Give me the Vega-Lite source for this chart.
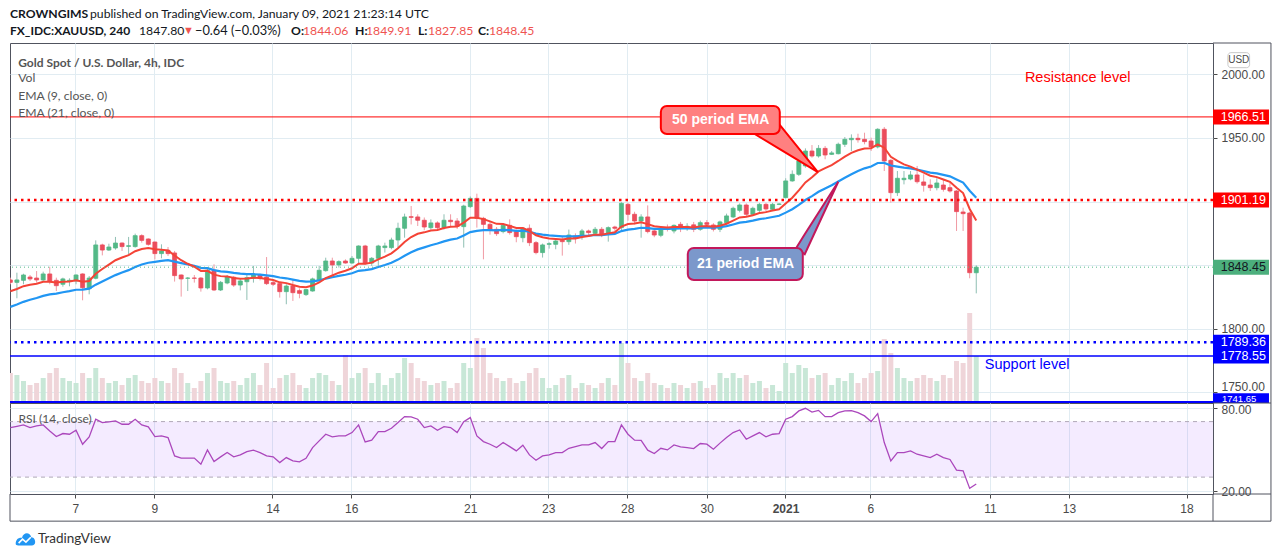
{
"$schema":"https://vega.github.io/schema/vega-lite/v6.json",
"background":"white",
"padding":{"left":7,"top":7,"right":5,"bottom":5},
"config":{
 "view":{"stroke":"#50535e","strokeWidth":1},
 "scale":{"continuousPadding":0},
 "axis":{"labelFont":"Liberation Sans","labelFontSize":12,"labelColor":"#4a4a4a","tickColor":"#4a4a4a","gridColor":"#e1ecf2","gridWidth":1,"domain":false,"title":null},
 "text":{"font":"Lato"}
},
"datasets":{
"bars":[
{"i":0,"o":1838.4,"h":1840.2,"l":1835.0,"c":1836.5,"v":30,"e9":1829.5,"e21":1817.2,"rsi":65.7},
{"i":1,"o":1836.5,"h":1844.1,"l":1824.0,"c":1838.4,"v":28,"e9":1831.3,"e21":1819.1,"rsi":66.6},
{"i":2,"o":1838.1,"h":1843.3,"l":1835.0,"c":1842.3,"v":22,"e9":1833.5,"e21":1821.2,"rsi":67.6},
{"i":3,"o":1840.7,"h":1842.3,"l":1837.6,"c":1839.2,"v":18,"e9":1834.6,"e21":1822.8,"rsi":65.7},
{"i":4,"o":1839.9,"h":1845.4,"l":1836.3,"c":1838.4,"v":20,"e9":1835.4,"e21":1824.2,"rsi":66.9},
{"i":5,"o":1838.4,"h":1844.9,"l":1837.6,"c":1843.1,"v":25,"e9":1836.9,"e21":1825.9,"rsi":67.6},
{"i":6,"o":1843.1,"h":1848.8,"l":1835.0,"c":1837.6,"v":30,"e9":1837.0,"e21":1827.0,"rsi":63.3},
{"i":7,"o":1838.1,"h":1840.2,"l":1829.7,"c":1833.9,"v":35,"e9":1836.4,"e21":1827.6,"rsi":59.2},
{"i":8,"o":1835.0,"h":1840.2,"l":1833.1,"c":1839.2,"v":25,"e9":1837.0,"e21":1828.7,"rsi":61.4},
{"i":9,"o":1837.6,"h":1839.7,"l":1833.4,"c":1838.1,"v":22,"e9":1837.2,"e21":1829.6,"rsi":60.9},
{"i":10,"o":1837.6,"h":1842.8,"l":1835.0,"c":1842.3,"v":20,"e9":1838.2,"e21":1830.7,"rsi":63.8},
{"i":11,"o":1843.1,"h":1843.6,"l":1822.4,"c":1832.3,"v":30,"e9":1837.0,"e21":1830.8,"rsi":53.7},
{"i":12,"o":1831.5,"h":1841.5,"l":1827.1,"c":1839.9,"v":25,"e9":1837.6,"e21":1831.6,"rsi":59.0},
{"i":13,"o":1839.7,"h":1869.5,"l":1838.9,"c":1865.9,"v":35,"e9":1843.3,"e21":1834.7,"rsi":71.7},
{"i":14,"o":1865.9,"h":1866.9,"l":1857.7,"c":1861.9,"v":25,"e9":1847.0,"e21":1837.2,"rsi":69.3},
{"i":15,"o":1861.9,"h":1866.9,"l":1861.2,"c":1864.3,"v":20,"e9":1850.5,"e21":1839.7,"rsi":69.8},
{"i":16,"o":1863.5,"h":1872.2,"l":1862.2,"c":1867.4,"v":22,"e9":1853.9,"e21":1842.2,"rsi":70.5},
{"i":17,"o":1867.4,"h":1867.9,"l":1861.2,"c":1864.6,"v":18,"e9":1856.0,"e21":1844.2,"rsi":68.1},
{"i":18,"o":1864.8,"h":1872.2,"l":1858.5,"c":1865.3,"v":25,"e9":1857.9,"e21":1846.1,"rsi":68.1},
{"i":19,"o":1864.6,"h":1874.8,"l":1863.8,"c":1873.2,"v":28,"e9":1861.0,"e21":1848.6,"rsi":71.7},
{"i":20,"o":1873.2,"h":1874.3,"l":1867.7,"c":1869.5,"v":22,"e9":1862.7,"e21":1850.5,"rsi":67.6},
{"i":21,"o":1870.6,"h":1871.1,"l":1865.3,"c":1866.4,"v":20,"e9":1863.4,"e21":1851.9,"rsi":66.2},
{"i":22,"o":1868.2,"h":1868.5,"l":1854.6,"c":1859.1,"v":25,"e9":1862.5,"e21":1852.6,"rsi":59.2},
{"i":23,"o":1859.1,"h":1866.4,"l":1855.4,"c":1861.2,"v":22,"e9":1862.2,"e21":1853.4,"rsi":59.7},
{"i":24,"o":1861.7,"h":1864.3,"l":1857.2,"c":1859.1,"v":20,"e9":1861.6,"e21":1853.9,"rsi":58.5},
{"i":25,"o":1859.6,"h":1861.2,"l":1837.1,"c":1841.8,"v":35,"e9":1857.6,"e21":1852.8,"rsi":45.3},
{"i":26,"o":1842.3,"h":1842.8,"l":1825.3,"c":1839.2,"v":30,"e9":1853.9,"e21":1851.6,"rsi":43.7},
{"i":27,"o":1839.7,"h":1840.7,"l":1829.7,"c":1839.9,"v":20,"e9":1851.1,"e21":1850.5,"rsi":43.7},
{"i":28,"o":1839.9,"h":1842.3,"l":1836.3,"c":1839.7,"v":15,"e9":1848.8,"e21":1849.5,"rsi":43.7},
{"i":29,"o":1839.9,"h":1840.7,"l":1829.2,"c":1832.1,"v":22,"e9":1845.5,"e21":1847.9,"rsi":39.3},
{"i":30,"o":1832.1,"h":1848.0,"l":1831.0,"c":1846.0,"v":30,"e9":1845.6,"e21":1847.7,"rsi":49.6},
{"i":31,"o":1846.0,"h":1850.7,"l":1829.7,"c":1830.5,"v":35,"e9":1842.6,"e21":1846.1,"rsi":41.2},
{"i":32,"o":1830.5,"h":1837.6,"l":1829.7,"c":1836.5,"v":22,"e9":1841.4,"e21":1845.2,"rsi":44.6},
{"i":33,"o":1836.0,"h":1842.3,"l":1835.0,"c":1840.7,"v":20,"e9":1841.2,"e21":1844.8,"rsi":47.7},
{"i":34,"o":1840.5,"h":1841.5,"l":1832.9,"c":1834.4,"v":22,"e9":1839.9,"e21":1843.9,"rsi":44.6},
{"i":35,"o":1834.4,"h":1839.7,"l":1830.2,"c":1837.6,"v":18,"e9":1839.4,"e21":1843.3,"rsi":46.0},
{"i":36,"o":1837.0,"h":1842.3,"l":1822.7,"c":1840.2,"v":25,"e9":1839.6,"e21":1843.0,"rsi":48.4},
{"i":37,"o":1839.7,"h":1849.4,"l":1836.3,"c":1842.3,"v":30,"e9":1840.1,"e21":1842.9,"rsi":49.4},
{"i":38,"o":1842.3,"h":1843.3,"l":1838.1,"c":1839.7,"v":18,"e9":1840.0,"e21":1842.6,"rsi":47.7},
{"i":39,"o":1840.7,"h":1856.4,"l":1834.4,"c":1835.5,"v":40,"e9":1839.1,"e21":1842.0,"rsi":45.3},
{"i":40,"o":1836.3,"h":1837.6,"l":1833.6,"c":1835.0,"v":15,"e9":1838.3,"e21":1841.4,"rsi":44.6},
{"i":41,"o":1835.5,"h":1836.3,"l":1824.5,"c":1829.2,"v":25,"e9":1836.5,"e21":1840.3,"rsi":40.5},
{"i":42,"o":1829.2,"h":1835.0,"l":1819.3,"c":1833.6,"v":28,"e9":1835.9,"e21":1839.7,"rsi":44.1},
{"i":43,"o":1833.6,"h":1838.9,"l":1821.9,"c":1828.4,"v":30,"e9":1834.4,"e21":1838.7,"rsi":41.7},
{"i":44,"o":1830.0,"h":1831.8,"l":1824.0,"c":1827.9,"v":18,"e9":1833.1,"e21":1837.7,"rsi":41.0},
{"i":45,"o":1826.9,"h":1831.3,"l":1825.8,"c":1830.8,"v":15,"e9":1832.6,"e21":1837.1,"rsi":43.6},
{"i":46,"o":1829.7,"h":1840.2,"l":1829.2,"c":1839.2,"v":25,"e9":1834.0,"e21":1837.3,"rsi":51.3},
{"i":47,"o":1838.4,"h":1849.4,"l":1837.6,"c":1846.0,"v":30,"e9":1836.4,"e21":1838.1,"rsi":56.1},
{"i":48,"o":1845.7,"h":1855.9,"l":1844.9,"c":1853.3,"v":28,"e9":1839.8,"e21":1839.5,"rsi":60.9},
{"i":49,"o":1853.3,"h":1855.9,"l":1842.3,"c":1850.2,"v":22,"e9":1841.9,"e21":1840.5,"rsi":59.0},
{"i":50,"o":1850.2,"h":1853.8,"l":1848.1,"c":1852.8,"v":18,"e9":1844.1,"e21":1841.6,"rsi":59.7},
{"i":51,"o":1853.3,"h":1854.6,"l":1851.2,"c":1851.7,"v":48,"e9":1845.6,"e21":1842.5,"rsi":59.7},
{"i":52,"o":1851.7,"h":1857.2,"l":1851.0,"c":1855.4,"v":25,"e9":1847.6,"e21":1843.7,"rsi":62.1},
{"i":53,"o":1855.4,"h":1865.6,"l":1851.0,"c":1865.1,"v":30,"e9":1851.1,"e21":1845.6,"rsi":67.6},
{"i":54,"o":1865.1,"h":1866.0,"l":1850.5,"c":1851.2,"v":35,"e9":1851.1,"e21":1846.1,"rsi":55.4},
{"i":55,"o":1851.7,"h":1856.4,"l":1849.4,"c":1855.4,"v":20,"e9":1852.0,"e21":1846.9,"rsi":56.6},
{"i":56,"o":1855.4,"h":1866.0,"l":1849.4,"c":1865.1,"v":30,"e9":1854.6,"e21":1848.6,"rsi":62.8},
{"i":57,"o":1863.8,"h":1867.7,"l":1859.9,"c":1865.1,"v":18,"e9":1856.7,"e21":1850.1,"rsi":62.8},
{"i":58,"o":1863.8,"h":1871.6,"l":1862.5,"c":1869.8,"v":25,"e9":1859.3,"e21":1851.9,"rsi":65.2},
{"i":59,"o":1869.8,"h":1883.4,"l":1863.8,"c":1879.0,"v":30,"e9":1863.3,"e21":1854.4,"rsi":69.3},
{"i":60,"o":1879.0,"h":1890.5,"l":1871.6,"c":1887.9,"v":45,"e9":1868.2,"e21":1857.4,"rsi":73.6},
{"i":61,"o":1888.1,"h":1896.5,"l":1882.0,"c":1887.6,"v":40,"e9":1872.1,"e21":1860.1,"rsi":73.4},
{"i":62,"o":1887.9,"h":1890.0,"l":1880.8,"c":1885.3,"v":25,"e9":1874.7,"e21":1862.4,"rsi":71.7},
{"i":63,"o":1885.3,"h":1887.5,"l":1877.5,"c":1880.0,"v":22,"e9":1875.8,"e21":1864.0,"rsi":65.7},
{"i":64,"o":1879.5,"h":1886.0,"l":1878.0,"c":1883.2,"v":18,"e9":1877.3,"e21":1865.7,"rsi":66.9},
{"i":65,"o":1883.2,"h":1884.5,"l":1877.0,"c":1879.5,"v":20,"e9":1877.7,"e21":1867.0,"rsi":63.8},
{"i":66,"o":1879.5,"h":1890.0,"l":1878.0,"c":1885.3,"v":22,"e9":1879.2,"e21":1868.7,"rsi":66.4},
{"i":67,"o":1885.3,"h":1890.0,"l":1880.0,"c":1884.2,"v":15,"e9":1880.2,"e21":1870.1,"rsi":65.7},
{"i":68,"o":1884.7,"h":1887.0,"l":1878.5,"c":1880.5,"v":20,"e9":1880.3,"e21":1871.0,"rsi":62.1},
{"i":69,"o":1880.3,"h":1897.5,"l":1863.8,"c":1896.5,"v":40,"e9":1883.5,"e21":1873.3,"rsi":70.0},
{"i":70,"o":1896.0,"h":1904.0,"l":1895.0,"c":1902.5,"v":35,"e9":1887.3,"e21":1876.0,"rsi":72.9},
{"i":71,"o":1902.5,"h":1906.2,"l":1879.5,"c":1886.8,"v":65,"e9":1887.2,"e21":1877.0,"rsi":59.7},
{"i":72,"o":1886.8,"h":1888.0,"l":1854.6,"c":1882.1,"v":55,"e9":1886.2,"e21":1877.5,"rsi":55.6},
{"i":73,"o":1882.1,"h":1884.0,"l":1874.0,"c":1877.4,"v":30,"e9":1884.4,"e21":1877.5,"rsi":53.7},
{"i":74,"o":1878.2,"h":1880.0,"l":1873.0,"c":1874.8,"v":25,"e9":1882.5,"e21":1877.3,"rsi":51.3},
{"i":75,"o":1876.4,"h":1883.0,"l":1875.0,"c":1881.3,"v":22,"e9":1882.3,"e21":1877.7,"rsi":54.9},
{"i":76,"o":1881.3,"h":1886.0,"l":1874.0,"c":1875.6,"v":25,"e9":1880.9,"e21":1877.5,"rsi":52.0},
{"i":77,"o":1876.4,"h":1878.0,"l":1868.0,"c":1872.4,"v":20,"e9":1879.2,"e21":1877.0,"rsi":48.9},
{"i":78,"o":1871.6,"h":1880.0,"l":1868.0,"c":1879.0,"v":22,"e9":1879.2,"e21":1877.2,"rsi":53.0},
{"i":79,"o":1879.0,"h":1882.0,"l":1865.0,"c":1867.7,"v":30,"e9":1876.9,"e21":1876.3,"rsi":46.0},
{"i":80,"o":1867.7,"h":1869.0,"l":1858.5,"c":1859.9,"v":35,"e9":1873.5,"e21":1874.8,"rsi":42.2},
{"i":81,"o":1859.9,"h":1867.0,"l":1856.0,"c":1865.9,"v":25,"e9":1872.0,"e21":1874.0,"rsi":45.3},
{"i":82,"o":1866.4,"h":1868.0,"l":1863.0,"c":1866.9,"v":15,"e9":1871.0,"e21":1873.4,"rsi":46.0},
{"i":83,"o":1866.4,"h":1871.0,"l":1862.5,"c":1869.0,"v":18,"e9":1870.6,"e21":1873.0,"rsi":47.7},
{"i":84,"o":1869.5,"h":1873.0,"l":1857.5,"c":1868.5,"v":25,"e9":1870.2,"e21":1872.6,"rsi":47.7},
{"i":85,"o":1868.5,"h":1878.0,"l":1866.0,"c":1873.7,"v":28,"e9":1870.9,"e21":1872.7,"rsi":50.8},
{"i":86,"o":1873.0,"h":1875.0,"l":1867.0,"c":1871.6,"v":15,"e9":1871.0,"e21":1872.6,"rsi":52.0},
{"i":87,"o":1872.4,"h":1878.5,"l":1870.0,"c":1876.9,"v":20,"e9":1872.2,"e21":1873.0,"rsi":53.2},
{"i":88,"o":1876.9,"h":1878.0,"l":1873.0,"c":1875.6,"v":18,"e9":1872.9,"e21":1873.2,"rsi":53.2},
{"i":89,"o":1875.0,"h":1880.0,"l":1873.5,"c":1878.2,"v":15,"e9":1874.0,"e21":1873.7,"rsi":54.9},
{"i":90,"o":1878.2,"h":1880.0,"l":1872.0,"c":1873.7,"v":20,"e9":1873.9,"e21":1873.7,"rsi":50.6},
{"i":91,"o":1874.3,"h":1880.5,"l":1868.5,"c":1879.5,"v":25,"e9":1875.0,"e21":1874.2,"rsi":55.6},
{"i":92,"o":1880.0,"h":1881.0,"l":1877.0,"c":1879.0,"v":18,"e9":1875.8,"e21":1874.6,"rsi":55.6},
{"i":93,"o":1879.5,"h":1899.5,"l":1877.5,"c":1898.6,"v":60,"e9":1880.4,"e21":1876.8,"rsi":67.6},
{"i":94,"o":1897.8,"h":1899.0,"l":1885.0,"c":1890.0,"v":40,"e9":1882.3,"e21":1878.0,"rsi":60.9},
{"i":95,"o":1890.0,"h":1892.0,"l":1882.0,"c":1884.7,"v":25,"e9":1882.8,"e21":1878.6,"rsi":56.6},
{"i":96,"o":1884.7,"h":1890.0,"l":1871.6,"c":1887.9,"v":22,"e9":1883.8,"e21":1879.4,"rsi":56.5},
{"i":97,"o":1887.9,"h":1897.0,"l":1875.0,"c":1876.4,"v":30,"e9":1882.3,"e21":1879.1,"rsi":49.4},
{"i":98,"o":1876.9,"h":1878.0,"l":1872.0,"c":1873.7,"v":20,"e9":1880.6,"e21":1878.6,"rsi":47.0},
{"i":99,"o":1873.5,"h":1879.5,"l":1872.0,"c":1878.2,"v":18,"e9":1880.1,"e21":1878.6,"rsi":50.8},
{"i":100,"o":1879.5,"h":1882.0,"l":1876.5,"c":1878.2,"v":15,"e9":1879.7,"e21":1878.6,"rsi":49.6},
{"i":101,"o":1876.9,"h":1882.0,"l":1875.0,"c":1881.3,"v":20,"e9":1880.1,"e21":1878.8,"rsi":53.2},
{"i":102,"o":1882.1,"h":1884.0,"l":1876.0,"c":1879.5,"v":18,"e9":1880.0,"e21":1878.9,"rsi":51.8},
{"i":103,"o":1880.1,"h":1883.0,"l":1877.0,"c":1880.6,"v":15,"e9":1880.1,"e21":1879.1,"rsi":51.3},
{"i":104,"o":1881.7,"h":1884.0,"l":1876.0,"c":1878.2,"v":20,"e9":1879.7,"e21":1879.0,"rsi":50.6},
{"i":105,"o":1878.2,"h":1885.0,"l":1877.0,"c":1883.4,"v":22,"e9":1880.5,"e21":1879.4,"rsi":54.2},
{"i":106,"o":1883.4,"h":1885.5,"l":1880.0,"c":1882.1,"v":15,"e9":1880.8,"e21":1879.6,"rsi":53.7},
{"i":107,"o":1881.6,"h":1883.0,"l":1876.5,"c":1878.2,"v":18,"e9":1880.3,"e21":1879.5,"rsi":50.1},
{"i":108,"o":1878.2,"h":1885.0,"l":1876.0,"c":1884.0,"v":30,"e9":1881.0,"e21":1879.9,"rsi":54.5},
{"i":109,"o":1883.4,"h":1890.5,"l":1882.0,"c":1888.7,"v":25,"e9":1882.6,"e21":1880.7,"rsi":58.5},
{"i":110,"o":1887.9,"h":1896.0,"l":1887.0,"c":1894.7,"v":30,"e9":1885.0,"e21":1882.0,"rsi":62.1},
{"i":111,"o":1893.1,"h":1898.6,"l":1891.5,"c":1897.3,"v":25,"e9":1887.5,"e21":1883.4,"rsi":64.0},
{"i":112,"o":1897.3,"h":1898.6,"l":1888.2,"c":1890.0,"v":28,"e9":1888.0,"e21":1884.0,"rsi":57.3},
{"i":113,"o":1890.0,"h":1896.0,"l":1888.7,"c":1894.7,"v":20,"e9":1889.3,"e21":1885.0,"rsi":59.7},
{"i":114,"o":1893.1,"h":1899.0,"l":1891.5,"c":1897.8,"v":22,"e9":1891.0,"e21":1886.2,"rsi":62.1},
{"i":115,"o":1897.8,"h":1899.1,"l":1892.0,"c":1894.2,"v":15,"e9":1891.7,"e21":1886.9,"rsi":59.0},
{"i":116,"o":1893.9,"h":1899.0,"l":1892.5,"c":1897.8,"v":18,"e9":1892.9,"e21":1887.9,"rsi":60.9},
{"i":117,"o":1897.8,"h":1898.8,"l":1897.2,"c":1898.1,"v":12,"e9":1893.9,"e21":1888.8,"rsi":61.4},
{"i":118,"o":1903.1,"h":1918.3,"l":1902.5,"c":1916.2,"v":40,"e9":1898.4,"e21":1891.3,"rsi":71.7},
{"i":119,"o":1916.2,"h":1924.5,"l":1915.6,"c":1921.4,"v":30,"e9":1903.0,"e21":1894.0,"rsi":73.6},
{"i":120,"o":1921.4,"h":1933.2,"l":1920.1,"c":1931.9,"v":38,"e9":1908.8,"e21":1897.4,"rsi":77.7},
{"i":121,"o":1928.0,"h":1941.8,"l":1926.6,"c":1939.7,"v":35,"e9":1915.0,"e21":1901.2,"rsi":79.6},
{"i":122,"o":1939.7,"h":1944.4,"l":1934.5,"c":1935.8,"v":25,"e9":1919.1,"e21":1904.3,"rsi":76.9},
{"i":123,"o":1935.8,"h":1944.4,"l":1934.5,"c":1941.8,"v":28,"e9":1923.7,"e21":1907.7,"rsi":78.1},
{"i":124,"o":1941.8,"h":1943.7,"l":1933.2,"c":1936.6,"v":30,"e9":1926.3,"e21":1910.3,"rsi":73.6},
{"i":125,"o":1937.1,"h":1939.7,"l":1936.6,"c":1938.2,"v":18,"e9":1928.7,"e21":1912.8,"rsi":73.6},
{"i":126,"o":1937.6,"h":1946.3,"l":1937.1,"c":1945.0,"v":25,"e9":1931.9,"e21":1915.7,"rsi":76.5},
{"i":127,"o":1945.0,"h":1950.7,"l":1942.9,"c":1948.9,"v":22,"e9":1935.3,"e21":1918.7,"rsi":77.7},
{"i":128,"o":1948.6,"h":1952.8,"l":1939.7,"c":1949.7,"v":30,"e9":1938.2,"e21":1921.5,"rsi":77.9},
{"i":129,"o":1949.7,"h":1953.3,"l":1946.3,"c":1948.6,"v":20,"e9":1940.3,"e21":1924.0,"rsi":76.5},
{"i":130,"o":1948.9,"h":1954.1,"l":1945.0,"c":1947.1,"v":25,"e9":1941.7,"e21":1926.1,"rsi":74.1},
{"i":131,"o":1947.6,"h":1950.2,"l":1939.7,"c":1942.9,"v":30,"e9":1941.9,"e21":1927.6,"rsi":70.0},
{"i":132,"o":1942.9,"h":1957.6,"l":1941.8,"c":1956.8,"v":32,"e9":1944.9,"e21":1930.3,"rsi":75.7},
{"i":133,"o":1956.8,"h":1958.6,"l":1924.0,"c":1931.9,"v":64,"e9":1942.3,"e21":1930.4,"rsi":54.9},
{"i":134,"o":1932.4,"h":1933.2,"l":1899.1,"c":1907.0,"v":50,"e9":1935.2,"e21":1928.3,"rsi":41.7},
{"i":135,"o":1907.0,"h":1924.0,"l":1904.4,"c":1918.3,"v":35,"e9":1931.9,"e21":1927.4,"rsi":47.7},
{"i":136,"o":1917.2,"h":1924.0,"l":1913.5,"c":1918.3,"v":25,"e9":1929.2,"e21":1926.6,"rsi":47.7},
{"i":137,"o":1917.7,"h":1924.0,"l":1916.7,"c":1920.9,"v":22,"e9":1927.5,"e21":1926.1,"rsi":48.9},
{"i":138,"o":1920.9,"h":1928.0,"l":1914.1,"c":1915.6,"v":25,"e9":1925.1,"e21":1925.1,"rsi":46.5},
{"i":139,"o":1915.4,"h":1921.4,"l":1907.8,"c":1912.8,"v":28,"e9":1922.7,"e21":1924.0,"rsi":45.3},
{"i":140,"o":1913.0,"h":1917.5,"l":1908.3,"c":1910.9,"v":25,"e9":1920.3,"e21":1922.8,"rsi":44.1},
{"i":141,"o":1910.9,"h":1918.3,"l":1908.8,"c":1914.6,"v":22,"e9":1919.2,"e21":1922.1,"rsi":46.5},
{"i":142,"o":1913.0,"h":1917.5,"l":1907.8,"c":1909.6,"v":28,"e9":1917.3,"e21":1921.0,"rsi":44.1},
{"i":143,"o":1910.9,"h":1914.9,"l":1907.0,"c":1908.3,"v":25,"e9":1915.5,"e21":1919.8,"rsi":42.7},
{"i":144,"o":1908.3,"h":1909.0,"l":1876.9,"c":1892.1,"v":42,"e9":1910.8,"e21":1917.3,"rsi":35.0},
{"i":145,"o":1891.8,"h":1895.2,"l":1876.9,"c":1890.5,"v":40,"e9":1906.7,"e21":1914.9,"rsi":34.5},
{"i":146,"o":1891.0,"h":1892.0,"l":1839.7,"c":1844.1,"v":90,"e9":1894.2,"e21":1908.5,"rsi":21.9},
{"i":147,"o":1844.06,"h":1849.91,"l":1827.85,"c":1848.45,"v":47,"e9":1885.1,"e21":1903.0,"rsi":25.0}
],
"tags":[
{"p":1966.51,"k":"res"},{"p":1901.19,"k":"res"},{"p":1848.45,"k":"last"},{"p":1789.36,"k":"sup"},{"p":1778.55,"k":"sup"}
],
"ptr50":[{"i":113.3,"y":1953.1,"y2":1953.1},{"i":117.1,"y":1960.2,"y2":1941.2},{"i":122.9,"y":1923.2,"y2":1923.2}],
"ptr21":[{"i":119.6,"y":1863.5,"y2":1863.5},{"i":120.9,"y":1874.3,"y2":1858.6},{"i":126.0,"y":1915.6,"y2":1915.6}]
},
"spacing":0,
"bounds":"flush",
"vconcat":[
{
 "width":1203,"height":360,
 "layer":[
  {
   "data":{"name":"bars"},
   "mark":{"type":"bar","size":5,"clip":true},
   "encoding":{
    "x":{"field":"i","type":"quantitative","scale":{"domain":[-0.05,183.03],"nice":false,"zero":false,"padding":0},
         "axis":{"values":[9.88,21.93,39.89,51.88,70,81.87,93.87,105.97,117.97,130.9,149.1,161.1,179],"grid":true,"labels":false,"ticks":false,"domain":false}},
    "y":{"field":"v","type":"quantitative","scale":{"domain":[0,360],"padding":0},"axis":null},
    "color":{"condition":{"test":"datum.c >= datum.o","value":"#c8e7d7"},"value":"#efd5d9"}
   }
  },
  {
   "layer":[
    {
     "data":{"name":"bars"},
     "mark":{"type":"rule","strokeWidth":1,"clip":true},
     "encoding":{
      "x":{"field":"i","type":"quantitative"},
      "y":{"field":"l","type":"quantitative","scale":{"domain":[1741.7,2024.6],"nice":false,"zero":false,"padding":0},
           "axis":{"orient":"right","values":[1750,1775,1800,1825,1850,1875,1900,1925,1950,1975,2000],"format":".2f",
                   "labelExpr":"(datum.value == 1775 || datum.value == 1850 || datum.value == 1900) ? '' : datum.label",
                   "labelOffset":{"condition":{"test":"datum.value == 1750","value":-6},"value":0},
                   "grid":true,"tickSize":4,"labelPadding":4}},
      "y2":{"field":"h"},
      "color":{"condition":{"test":"datum.c >= datum.o","value":"#8fbfb3"},"value":"#f09aa4"}
     }
    },
    {
     "data":{"name":"bars"},
     "mark":{"type":"bar","size":4,"strokeWidth":0.8,"clip":true},
     "encoding":{
      "x":{"field":"i","type":"quantitative"},
      "y":{"field":"o","type":"quantitative"},
      "y2":{"field":"c"},
      "fill":{"condition":{"test":"datum.c >= datum.o","value":"#53b987"},"value":"#eb4d5c"},
      "stroke":{"condition":{"test":"datum.c >= datum.o","value":"#53b987"},"value":"#eb4d5c"}
     }
    },
    {
     "data":{"name":"bars"},
     "mark":{"type":"line","color":"#2196f3","strokeWidth":2.2,"clip":true},
     "encoding":{"x":{"field":"i","type":"quantitative"},"y":{"field":"e21","type":"quantitative"}}
    },
    {
     "data":{"name":"bars"},
     "mark":{"type":"line","color":"#f44336","strokeWidth":2,"clip":true},
     "encoding":{"x":{"field":"i","type":"quantitative"},"y":{"field":"e9","type":"quantitative"}}
    },
    {"data":{"values":[{}]},"mark":{"type":"rule","color":"#ff0000","strokeWidth":1},"encoding":{"y":{"datum":1966.51}}},
    {"data":{"values":[{}]},"mark":{"type":"rule","color":"#ff0000","strokeWidth":2.5,"strokeDash":[2.5,4]},"encoding":{"y":{"datum":1901.19}}},
    {"data":{"values":[{}]},"mark":{"type":"rule","color":"#53b987","strokeWidth":1,"strokeDash":[1,3]},"encoding":{"y":{"datum":1848.45}}},
    {"data":{"values":[{}]},"mark":{"type":"rule","color":"#0000ff","strokeWidth":2.5,"strokeDash":[2.5,4]},"encoding":{"y":{"datum":1789.36}}},
    {"data":{"values":[{}]},"mark":{"type":"rule","color":"#0000ff","strokeWidth":1.5},"encoding":{"y":{"datum":1778.55}}},
    {"data":{"values":[{}]},"mark":{"type":"rule","color":"#0000ff","strokeWidth":2},"encoding":{"y":{"datum":1742.4}}},
    {
     "data":{"name":"ptr50"},
     "mark":{"type":"area","fill":"#ff8080","stroke":"#ff0000","strokeWidth":2},
     "encoding":{"x":{"field":"i","type":"quantitative"},"y":{"field":"y","type":"quantitative"},"y2":{"field":"y2"}}
    },
    {"data":{"values":[{}]},"mark":{"type":"rect","fill":"#ff8080","stroke":"#ff0000","strokeWidth":2,"cornerRadius":6},
     "encoding":{"x":{"datum":99.0},"x2":{"datum":117.1},"y":{"datum":1975.1},"y2":{"datum":1953.1}}},
    {"data":{"values":[{}]},"mark":{"type":"text","text":"50 period EMA","font":"Liberation Sans","fontSize":14,"fontWeight":"bold","color":"white","align":"center","baseline":"middle"},
     "encoding":{"x":{"datum":108.1},"y":{"datum":1964.1}}},
    {
     "data":{"name":"ptr21"},
     "mark":{"type":"area","fill":"#7b98cb","stroke":"#c2185b","strokeWidth":2},
     "encoding":{"x":{"field":"i","type":"quantitative"},"y":{"field":"y","type":"quantitative"},"y2":{"field":"y2"}}
    },
    {"data":{"values":[{}]},"mark":{"type":"rect","fill":"#7b98cb","stroke":"#c2185b","strokeWidth":2,"cornerRadius":6},
     "encoding":{"x":{"datum":103.1},"x2":{"datum":120.6},"y":{"datum":1863.5},"y2":{"datum":1838.4}}},
    {"data":{"values":[{}]},"mark":{"type":"text","text":"21 period EMA","font":"Liberation Sans","fontSize":14,"fontWeight":"bold","color":"white","align":"center","baseline":"middle"},
     "encoding":{"x":{"datum":111.9},"y":{"datum":1851.1}}},
    {"data":{"values":[{}]},"mark":{"type":"text","text":"Resistance level","font":"Liberation Sans","fontSize":14.5,"color":"#ff0000","align":"left","baseline":"middle"},
     "encoding":{"x":{"datum":154.4},"y":{"datum":1997.1}}},
    {"data":{"values":[{}]},"mark":{"type":"text","text":"Support level","font":"Liberation Sans","fontSize":14.5,"color":"#0000ff","align":"left","baseline":"middle"},
     "encoding":{"x":{"datum":148.3},"y":{"datum":1771.6}}},
    {
     "data":{"name":"tags"},
     "mark":{"type":"bar","orient":"horizontal","size":15},
     "encoding":{
      "x":{"datum":183.03},"x2":{"datum":191.55},
      "y":{"field":"p","type":"quantitative"},
      "color":{"field":"k","type":"nominal","scale":{"domain":["res","last","sup"],"range":["#ff0000","#4caf7d","#0000ff"]},"legend":null}
     }
    },
    {
     "data":{"name":"tags"},
     "mark":{"type":"text","font":"Liberation Sans","fontSize":12.5,"align":"left","baseline":"middle"},
     "encoding":{
      "x":{"datum":184.2},
      "y":{"field":"p","type":"quantitative"},
      "text":{"field":"p","format":".2f"},
      "color":{"condition":{"test":"datum.k === 'last'","value":"#131722"},"value":"white"}
     }
    },
    {"data":{"values":[{}]},"mark":{"type":"rect","fill":"#0000ff"},
     "encoding":{"x":{"datum":183.03},"x2":{"datum":191.55},"y":{"datum":1741.7},"y2":{"datum":1749.4}}},
    {"data":{"values":[{}]},"mark":{"type":"text","text":"1741.65","font":"Liberation Sans","fontSize":9.5,"color":"white","align":"left","baseline":"alphabetic"},
     "encoding":{"x":{"datum":184.4},"y":{"datum":1742.5}}},
    {"data":{"values":[{}]},"mark":{"type":"rect","fill":"white","stroke":"#c8c8c8","strokeWidth":1,"cornerRadius":3},
     "encoding":{"x":{"datum":185.3},"x2":{"datum":188.6},"y":{"datum":2005.2},"y2":{"datum":2017.0}}},
    {"data":{"values":[{}]},"mark":{"type":"text","text":"USD","font":"Liberation Sans","fontSize":10,"color":"#4a4a4a","align":"center","baseline":"middle"},
     "encoding":{"x":{"datum":186.95},"y":{"datum":2011.1}}},
    {"data":{"values":[{}]},"mark":{"type":"text","text":"Gold Spot / U.S. Dollar, 4h, IDC","fontSize":12,"fontWeight":"bold","color":"#555555","align":"left","baseline":"middle"},
     "encoding":{"x":{"datum":1.2},"y":{"datum":2009.1}}},
    {"data":{"values":[{}]},"mark":{"type":"text","text":"Vol","fontSize":12.2,"color":"#555555","align":"left","baseline":"middle"},
     "encoding":{"x":{"datum":1.2},"y":{"datum":1996.9}}},
    {"data":{"values":[{}]},"mark":{"type":"text","text":"EMA (9, close, 0)","fontSize":12.2,"color":"#555555","align":"left","baseline":"middle"},
     "encoding":{"x":{"datum":1.2},"y":{"datum":1982.9}}},
    {"data":{"values":[{}]},"mark":{"type":"text","text":"EMA (21, close, 0)","fontSize":12.2,"color":"#555555","align":"left","baseline":"middle"},
     "encoding":{"x":{"datum":1.2},"y":{"datum":1969.8}}},
    {"data":{"values":[{}]},"mark":{"type":"text","text":"CROWNGIMS","fontSize":12.2,"fontWeight":"bold","color":"#131722","align":"left","baseline":"middle"},
     "encoding":{"x":{"datum":-0.05},"y":{"datum":2047.1}}},
    {"data":{"values":[{}]},"mark":{"type":"text","text":"published on TradingView.com, January 09, 2021 21:23:14 UTC","fontSize":12.2,"color":"#131722","align":"left","baseline":"middle"},
     "encoding":{"x":{"datum":12.13},"y":{"datum":2047.1}}},
    {"data":{"values":[{}]},"mark":{"type":"text","text":"FX_IDC:XAUUSD, 240","fontSize":12,"fontWeight":"bold","color":"#131722","align":"left","baseline":"middle"},
     "encoding":{"x":{"datum":-0.05},"y":{"datum":2034.0}}},
    {"data":{"values":[{}]},"mark":{"type":"text","text":"1847.80","fontSize":12.2,"color":"#131722","align":"left","baseline":"middle"},
     "encoding":{"x":{"datum":19.59},"y":{"datum":2034.0}}},
    {"data":{"values":[{}]},"mark":{"type":"text","text":"▼","fontSize":11,"color":"#ef5350","align":"left","baseline":"middle"},
     "encoding":{"x":{"datum":26.28},"y":{"datum":2034.0}}},
    {"data":{"values":[{}]},"mark":{"type":"text","text":"−0.64 (−0.03%)","fontSize":12.8,"color":"#131722","align":"left","baseline":"middle"},
     "encoding":{"x":{"datum":28.1},"y":{"datum":2034.0}}},
    {"data":{"values":[{}]},"mark":{"type":"text","text":"O:","fontSize":12.2,"fontWeight":"bold","color":"#131722","align":"left","baseline":"middle"},
     "encoding":{"x":{"datum":42.72},"y":{"datum":2034.0}}},
    {"data":{"values":[{}]},"mark":{"type":"text","text":"1844.06","fontSize":12.2,"color":"#ef5350","align":"left","baseline":"middle"},
     "encoding":{"x":{"datum":44.54},"y":{"datum":2034.0}}},
    {"data":{"values":[{}]},"mark":{"type":"text","text":"H:","fontSize":12.2,"fontWeight":"bold","color":"#131722","align":"left","baseline":"middle"},
     "encoding":{"x":{"datum":52.46},"y":{"datum":2034.0}}},
    {"data":{"values":[{}]},"mark":{"type":"text","text":"1849.91","fontSize":12.2,"color":"#ef5350","align":"left","baseline":"middle"},
     "encoding":{"x":{"datum":54.13},"y":{"datum":2034.0}}},
    {"data":{"values":[{}]},"mark":{"type":"text","text":"L:","fontSize":12.2,"fontWeight":"bold","color":"#131722","align":"left","baseline":"middle"},
     "encoding":{"x":{"datum":62.04},"y":{"datum":2034.0}}},
    {"data":{"values":[{}]},"mark":{"type":"text","text":"1827.85","fontSize":12.2,"color":"#ef5350","align":"left","baseline":"middle"},
     "encoding":{"x":{"datum":63.56},"y":{"datum":2034.0}}},
    {"data":{"values":[{}]},"mark":{"type":"text","text":"C:","fontSize":12.2,"fontWeight":"bold","color":"#131722","align":"left","baseline":"middle"},
     "encoding":{"x":{"datum":71.18},"y":{"datum":2034.0}}},
    {"data":{"values":[{}]},"mark":{"type":"text","text":"1848.45","fontSize":12.2,"color":"#ef5350","align":"left","baseline":"middle"},
     "encoding":{"x":{"datum":72.85},"y":{"datum":2034.0}}},
    {"data":{"values":[{}]},"mark":{"type":"rule","color":"#50535e","strokeWidth":1},
     "encoding":{"x":{"datum":183.03},"x2":{"datum":191.85},"y":{"datum":2024.6}}},
    {"data":{"values":[{}]},"mark":{"type":"rule","color":"#50535e","strokeWidth":1},
     "encoding":{"x":{"datum":191.85},"y":{"datum":1741.7},"y2":{"datum":2024.6}}},
    {"data":{"values":[{}]},"mark":{"type":"rule","color":"#50535e","strokeWidth":1},
     "encoding":{"x":{"datum":183.03},"x2":{"datum":191.85},"y":{"datum":1741.7}}}
   ]
  }
 ],
 "resolve":{"scale":{"y":"independent"}}
},
{
 "width":1203,"height":91,
 "layer":[
  {"data":{"values":[{}]},"mark":{"type":"rect","fill":"#9b4dff","opacity":0.11},
   "encoding":{"x":{"datum":-0.05},"x2":{"datum":183.03},"y":{"datum":70},"y2":{"datum":30}}},
  {"data":{"values":[{}]},"mark":{"type":"rule","color":"#b0a8b8","strokeWidth":1,"strokeDash":[4,4]},"encoding":{"y":{"datum":70}}},
  {"data":{"values":[{}]},"mark":{"type":"rule","color":"#b0a8b8","strokeWidth":1,"strokeDash":[4,4]},"encoding":{"y":{"datum":30}}},
  {
   "data":{"name":"bars"},
   "mark":{"type":"line","color":"#ab47bc","strokeWidth":1.3},
   "encoding":{
    "x":{"field":"i","type":"quantitative","scale":{"domain":[-0.05,183.03],"nice":false,"zero":false,"padding":0},
         "axis":{"orient":"bottom","values":[9.88,21.93,39.89,51.88,70,81.87,93.87,105.97,117.97,130.9,149.1,161.1,179],
                 "labelExpr":"['7','9','14','16','21','23','28','30','2021','6','11','13','18'][indexof([9.88,21.93,39.89,51.88,70,81.87,93.87,105.97,117.97,130.9,149.1,161.1,179], datum.value)]",
                 "labelFontWeight":{"condition":{"test":"datum.value == 117.97","value":"bold"},"value":"normal"},
                 "grid":true,"ticks":true,"tickSize":4,"labelPadding":5,"domain":false,"labelFlush":false,"labelOverlap":false}},
    "y":{"field":"rsi","type":"quantitative","scale":{"domain":[17.84,83.4],"nice":false,"zero":false,"padding":0},
         "axis":{"orient":"right","values":[20,40,60,80],"format":".2f","grid":true,"tickSize":4,"labelPadding":4,
                 "labelOffset":{"condition":{"test":"datum.value == 80","value":2},"value":0}}}
   }
  },
  {"data":{"values":[{}]},"mark":{"type":"text","text":"RSI (14, close)","fontSize":12,"color":"#555555","align":"left","baseline":"middle"},
   "encoding":{"x":{"datum":1.25},"y":{"datum":71.6}}},
  {"data":{"values":[{}]},"mark":{"type":"point","shape":"M -1 0.5 C -1 0 -0.7 -0.2 -0.35 -0.15 C -0.25 -0.7 0.45 -0.8 0.6 -0.2 C 0.9 -0.2 1 0.1 1 0.3 C 1 0.55 0.85 0.65 0.65 0.65 L -0.75 0.65 C -0.9 0.65 -1 0.55 -1 0.5 Z","size":380,"filled":true,"fill":"#2196f3","opacity":1,"strokeWidth":0},
   "encoding":{"x":{"datum":2.3},"y":{"datum":-14.7}}},
  {"data":{"values":[{}]},"mark":{"type":"point","shape":"M -0.7 0.4 L -0.3 0 L 0.05 0.3 L 0.55 -0.2","size":380,"filled":false,"stroke":"white","strokeWidth":1.6,"opacity":1},
   "encoding":{"x":{"datum":2.3},"y":{"datum":-14.7}}},
  {"data":{"values":[{}]},"mark":{"type":"text","text":"TradingView","fontSize":13.5,"color":"#333333","align":"left","baseline":"middle"},
   "encoding":{"x":{"datum":4.2},"y":{"datum":-14.7}}},
  {"data":{"values":[{}]},"mark":{"type":"rule","color":"#50535e","strokeWidth":1},
   "encoding":{"x":{"datum":191.85},"y":{"datum":83.4},"y2":{"datum":-1.72}}},
  {"data":{"values":[{}]},"mark":{"type":"rule","color":"#50535e","strokeWidth":1},
   "encoding":{"x":{"datum":-0.05},"x2":{"datum":191.85},"y":{"datum":-1.72}}},
  {"data":{"values":[{}]},"mark":{"type":"rule","color":"#50535e","strokeWidth":1},
   "encoding":{"x":{"datum":-0.05},"y":{"datum":17.84},"y2":{"datum":-1.72}}},
  {"data":{"values":[{}]},"mark":{"type":"rule","color":"#50535e","strokeWidth":1},
   "encoding":{"x":{"datum":183.03},"y":{"datum":17.84},"y2":{"datum":-1.72}}},
  {"data":{"values":[{}]},"mark":{"type":"rule","color":"#50535e","strokeWidth":1},
   "encoding":{"x":{"datum":183.03},"x2":{"datum":191.85},"y":{"datum":17.84}}}
 ]
}
]
}
